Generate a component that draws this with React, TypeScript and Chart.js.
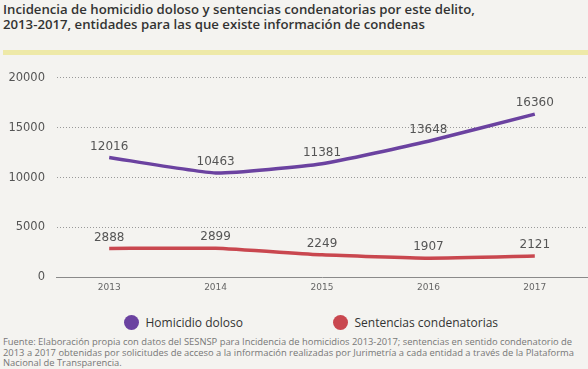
import React, { useEffect, useRef } from "react";
import { Chart, registerables } from "chart.js";

Chart.register(...registerables);

const years = ["2013", "2014", "2015", "2016", "2017"];
const homicidioDoloso = [12016, 10463, 11381, 13648, 16360];
const sentenciasCondenatorias = [2888, 2899, 2249, 1907, 2121];
const yTicks = [0, 5000, 10000, 15000, 20000];

const PURPLE = "#6b42a0";
const RED = "#c9474f";
const BG = "#f4f3f0";

const labelPlugin = {
  id: "pointLabels",
  afterDatasetsDraw(chart: any) {
    const ctx = chart.ctx;
    ctx.save();
    ctx.font = "12px 'DejaVu Sans'";
    ctx.fillStyle = "#555";
    ctx.textAlign = "center";
    ctx.textBaseline = "middle";
    chart.data.datasets.forEach((ds: any, i: number) => {
      const meta = chart.getDatasetMeta(i);
      meta.data.forEach((pt: any, j: number) => {
        ctx.fillText(String(ds.data[j]), pt.x, pt.y - 11);
      });
    });
    ctx.restore();
  },
};

export default function App() {
  const ref = useRef<HTMLCanvasElement>(null);
  useEffect(() => {
    document.body.style.margin = "0";
    const chart = new Chart(ref.current!, {
      type: "line",
      data: {
        labels: years,
        datasets: [
          {
            label: "Homicidio doloso",
            data: homicidioDoloso,
            borderColor: PURPLE,
            backgroundColor: PURPLE,
            borderWidth: 3.5,
            pointRadius: 0,
            tension: 0.15,
          },
          {
            label: "Sentencias condenatorias",
            data: sentenciasCondenatorias,
            borderColor: RED,
            backgroundColor: RED,
            borderWidth: 3.5,
            pointRadius: 0,
            tension: 0.15,
          },
        ],
      },
      options: {
        animation: false,
        responsive: false,
        maintainAspectRatio: false,
        layout: { padding: { top: 15, right: 0, bottom: 2, left: 0 } },
        plugins: { legend: { display: false }, tooltip: { enabled: false } },
        scales: {
          x: {
            offset: true,
            grid: { display: false, drawTicks: false },
            border: { display: true, color: "#8a8a8a", width: 1 },
            ticks: {
              color: "#666",
              padding: 5,
              font: { family: "'DejaVu Sans'", size: 9 },
            },
          },
          y: {
            min: 0,
            max: 20000,
            afterFit(scale: any) {
              scale.width = 56;
            },
            afterBuildTicks(scale: any) {
              scale.ticks = yTicks.map((v) => ({ value: v }));
            },
            grid: {
              color: "#999",
              lineWidth: 1,
              drawTicks: false,
            },
            border: { display: true, color: "rgba(0,0,0,0)", dash: [1, 2] },
            ticks: {
              color: "#555",
              padding: 11,
              font: { family: "'DejaVu Sans'", size: 11.5 },
              callback: (v: any) => String(v),
            },
          },
        },
      },
      plugins: [labelPlugin],
    } as any);
    return () => chart.destroy();
  }, []);

  const legendItem = (color: string, text: string, cx: number) => (
    <div
      style={{
        position: "absolute",
        left: cx - 7.5,
        top: 314,
        display: "flex",
        alignItems: "center",
        whiteSpace: "nowrap",
      }}
    >
      <span
        style={{
          width: 15,
          height: 15,
          borderRadius: "50%",
          background: color,
          display: "inline-block",
          marginRight: 7,
        }}
      />
      <span style={{ fontSize: 12, color: "#333", fontFamily: "'Open Sans'" }}>{text}</span>
    </div>
  );

  return (
    <div
      style={{
        position: "relative",
        width: 588,
        height: 369,
        background: BG,
        overflow: "hidden",
        fontFamily: "'Open Sans', sans-serif",
      }}
    >
      <div
        style={{
          position: "absolute",
          left: 3,
          top: 2,
          fontSize: 13.2,
          fontWeight: 600,
          color: "#333",
          lineHeight: "15px",
          whiteSpace: "nowrap",
        }}
      >
        Incidencia de homicidio doloso y sentencias condenatorias por este delito,
        <br />
        2013-2017, entidades para las que existe información de condenas
      </div>
      <div
        style={{
          position: "absolute",
          left: 3,
          top: 50,
          width: 585,
          height: 5,
          background: "#eee9a8",
        }}
      />
      <canvas
        ref={ref}
        width={588}
        height={240}
        style={{ position: "absolute", left: 0, top: 60, width: 588, height: 240 }}
      />
      {legendItem(PURPLE, "Homicidio doloso", 131)}
      {legendItem(RED, "Sentencias condenatorias", 340)}
      <div
        style={{
          position: "absolute",
          left: 3,
          top: 337,
          fontSize: 9.4,
          lineHeight: "10.5px",
          color: "#777",
          whiteSpace: "nowrap",
        }}
      >
        Fuente: Elaboración propia con datos del SESNSP para Incidencia de homicidios 2013-2017; sentencias en sentido condenatorio de
        <br />
        2013 a 2017 obtenidas por solicitudes de acceso a la información realizadas por Jurimetría a cada entidad a través de la Plataforma
        <br />
        Nacional de Transparencia.
      </div>
    </div>
  );
}
